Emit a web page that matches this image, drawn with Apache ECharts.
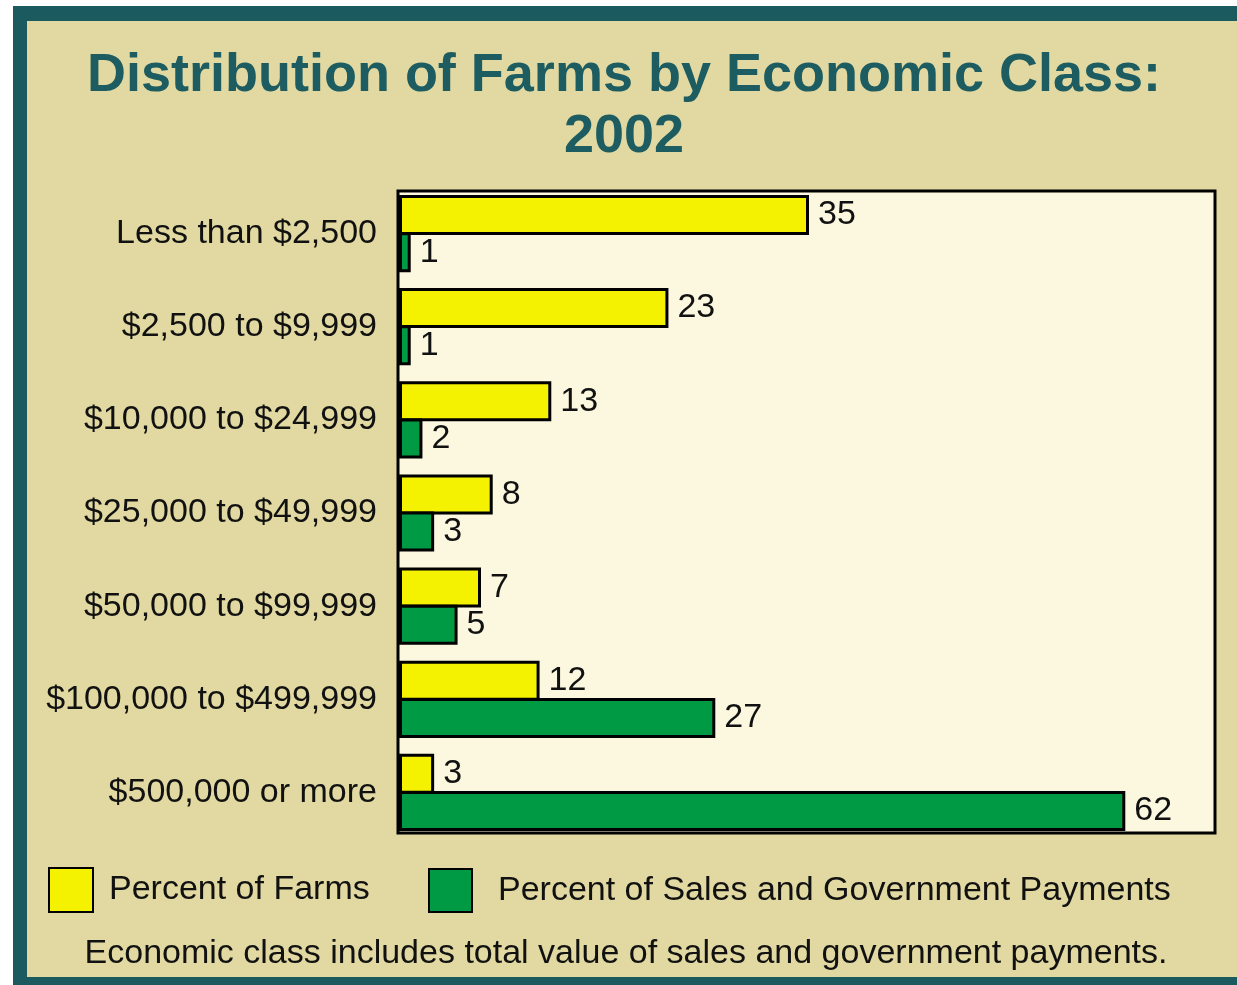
<!DOCTYPE html>
<html>
<head>
<meta charset="utf-8">
<script src="https://cdn.jsdelivr.net/npm/echarts@6/dist/echarts.min.js"></script>
<style>
html,body{margin:0;padding:0;background:#ffffff;}
#chart{width:1237px;height:985px;}
</style>
</head>
<body>
<div id="chart"></div>
<script>
const categories = ['Less than $2,500', '$2,500 to $9,999', '$10,000 to $24,999', '$25,000 to $49,999', '$50,000 to $99,999', '$100,000 to $499,999', '$500,000 or more'];
const percentFarms = [35, 23, 13, 8, 7, 12, 3];
const percentSales = [1, 1, 2, 3, 5, 27, 62];
const seriesNames = ['Percent of Farms', 'Percent of Sales and Government Payments'];
const titleText = 'Distribution of Farms by Economic Class:\n2002';
const footnote = 'Economic class includes total value of sales and government payments.';

const FONT = '"Liberation Sans", Arial, Helvetica, sans-serif';
const chart = echarts.init(document.getElementById('chart'), null, {renderer: 'canvas'});

const labelStyle = {show: true, position: 'right', distance: 9, color: '#111', fontSize: 34, fontFamily: FONT};

chart.setOption({
  backgroundColor: '#ffffff',
  animation: false,
  graphic: [
    {type: 'rect', z: -20, shape: {x: 13, y: 6, width: 1240, height: 985}, style: {fill: '#1b5a5e'}},
    {type: 'rect', z: -19, shape: {x: 27, y: 21, width: 1215, height: 956}, style: {fill: '#e1d9a1'}},
    {type: 'rect', z: -18, shape: {x: 398, y: 191, width: 817, height: 642}, style: {fill: '#fbf8df', stroke: '#000', lineWidth: 3}}
  ],
  title: [
    {text: titleText, left: 619, top: 41, textAlign: 'center',
     textStyle: {color: '#1d5c60', fontSize: 54, fontWeight: 'bold', fontFamily: FONT, lineHeight: 61}},
    {text: footnote, left: 621, top: 932, textAlign: 'center',
     textStyle: {color: '#111', fontSize: 34, fontWeight: 'normal', fontFamily: FONT}}
  ],
  legend: [
    {data: [seriesNames[0]], left: 48, top: 867, padding: 0, itemWidth: 44, itemHeight: 44, icon: 'rect',
     textStyle: {color: '#111', fontSize: 34, fontFamily: FONT, padding: [0, 0, 0, 11]}},
    {data: [seriesNames[1]], left: 428, top: 868, padding: 0, itemWidth: 43, itemHeight: 43, icon: 'rect',
     textStyle: {color: '#111', fontSize: 34, fontFamily: FONT, padding: [0, 0, 0, 21]}}
  ],
  grid: {left: 399, right: 18, top: 187, bottom: 146, show: false},
  xAxis: {type: 'value', min: 0, max: 70, show: false},
  yAxis: {
    type: 'category', data: categories, inverse: true,
    axisLine: {show: false}, axisTick: {show: false},
    axisLabel: {color: '#111', fontSize: 34, fontFamily: FONT, margin: 22}
  },
  series: [
    {name: seriesNames[0], type: 'bar', data: percentFarms, barWidth: 40, barGap: '-7%',
     itemStyle: {color: '#f4f200', borderColor: '#000', borderWidth: 3}, label: labelStyle},
    {name: seriesNames[1], type: 'bar', data: percentSales, barWidth: 40,
     itemStyle: {color: '#009a44', borderColor: '#000', borderWidth: 3}, label: labelStyle}
  ]
});
</script>
</body>
</html>
